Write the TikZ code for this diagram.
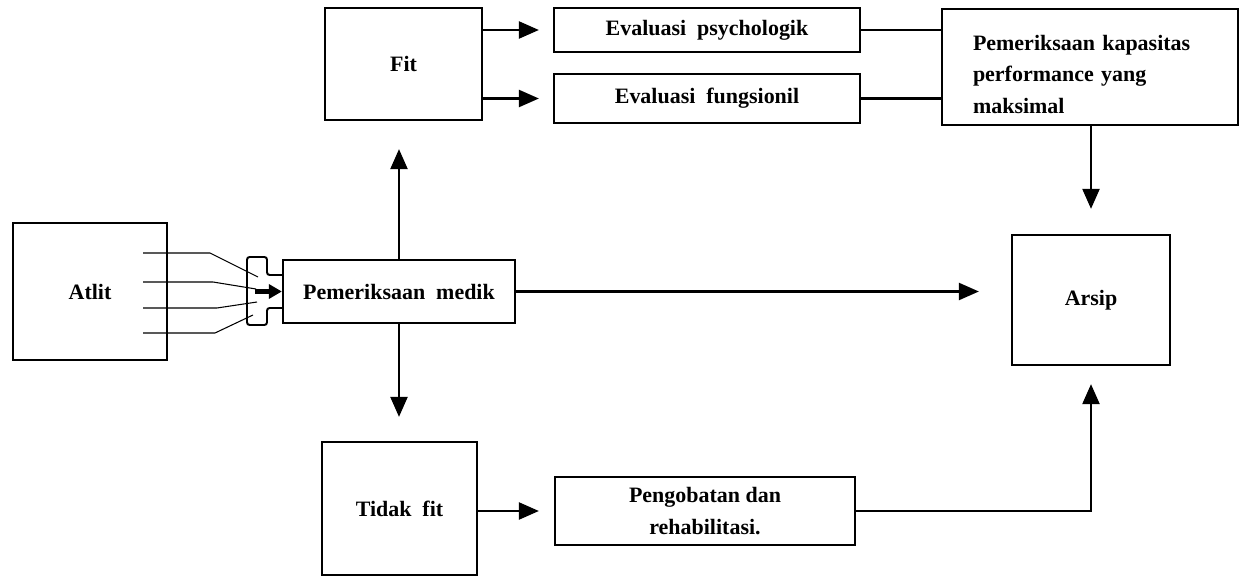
\documentclass[tikz,border=0pt]{standalone}
\usepackage{fontspec}
\setmainfont{Liberation Serif}
\usetikzlibrary{arrows.meta}

\begin{document}
\begin{tikzpicture}[x=0.02cm, y=-0.02cm,
    box/.style={draw, line width=1.3pt, inner sep=2pt, align=center,
        font=\bfseries\fontsize{12.5}{18}\selectfont},
    flow/.style={line width=1.3pt, -{Triangle[length=0.4cm, width=0.34cm]}},
    link/.style={line width=1.3pt},
    wire/.style={line width=0.6pt},
    plug/.style={line width=1.1pt, rounded corners=1.5pt}]
    \useasboundingbox (0,0) rectangle (1241,577);

    % --- BOXES ---
    \node[box, minimum width=3.08cm, minimum height=2.74cm] (atlit) at (90,291.5) {Atlit};
    \node[box, minimum width=4.64cm, minimum height=1.26cm] (medik) at (399,291.5) {Pemeriksaan\ \ medik};
    \node[box, minimum width=3.14cm, minimum height=2.24cm] (fit) at (403.5,64) {Fit};
    \node[box, minimum width=3.1cm, minimum height=2.66cm] (tidak) at (399.5,508.5) {Tidak\ \ fit};
    \node[box, minimum width=6.12cm, minimum height=0.88cm] (psych) at (707,30) {Evaluasi\ \ psychologik};
    \node[box, minimum width=6.12cm, minimum height=0.98cm] (fungsi) at (707,98.5) {Evaluasi\ \ fungsionil};
    \node[box, minimum width=6.0cm, minimum height=1.36cm] (obat) at (705,511) {Pengobatan dan\\rehabilitasi.};
    \node[box, align=left, text width=4.68cm, inner xsep=0.62cm, minimum height=2.32cm] (kapasitas) at (1090,67)
        {\rule{0pt}{0.59cm}Pemeriksaan kapasitas\\performance yang\\maksimal};
    \node[box, minimum width=3.16cm, minimum height=2.6cm] (arsip) at (1091,300) {Arsip};

    % --- cables from Atlit into the plug ---
    \foreach \ya/\xb/\xc/\yc in {253/210/258/277, 282/213/256/289, 308/217/257/302, 333/215/253/315}
        \draw[wire] (143,\ya) -- (\xb,\ya) -- (\xc,\yc);
    \draw[plug] (283,275) -- (267,275) -- (267,257) -- (247,257) -- (247,325)
        -- (267,325) -- (267,308) -- (283,308);
    \draw[line width=3pt, -{Triangle[length=0.26cm, width=0.28cm]}] (255,291.5) -- (medik.west);

    % --- arrows ---
    \draw[flow, shorten >=0.56cm] (medik.north) -- (medik.north |- fit.south);
    \draw[flow, shorten >=0.48cm] (medik.south) -- (medik.south |- tidak.north);
    \draw[flow, shorten >=0.64cm] (medik.east) -- (medik.east -| arsip.west);
    \draw[flow, shorten >=0.28cm] (fit.east |- psych.west) -- (psych.west);
    \draw[flow, shorten >=0.28cm] (fit.east |- fungsi.west) -- (fungsi.west);
    \draw[link] (psych.east) -- (kapasitas.west |- psych.east);
    \draw[link] (fungsi.east) -- (kapasitas.west |- fungsi.east);
    \draw[flow, shorten >=0.5cm] (arsip.north |- kapasitas.south) -- (arsip.north);
    \draw[flow, shorten >=0.3cm] (tidak.east |- obat.west) -- (obat.west);
    \draw[flow, shorten >=0.36cm] (obat.east) -- (obat.east -| arsip.south) -- (arsip.south);
\end{tikzpicture}
\end{document}
